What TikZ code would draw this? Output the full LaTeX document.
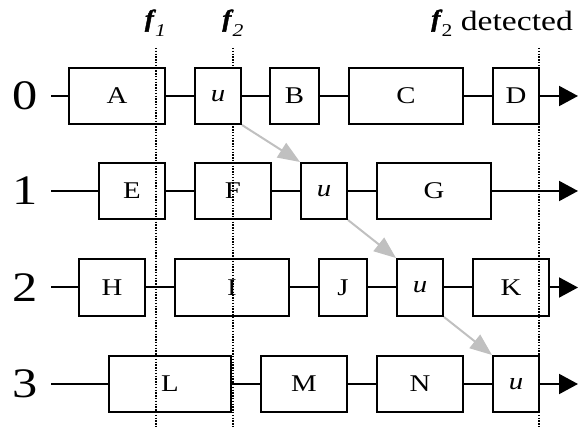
\documentclass[tikz,border=0pt]{standalone}
\usepackage{fontspec}
\setmainfont{Liberation Serif}[FakeStretch=1.2]
\newfontfamily\fvarfont{Liberation Serif Bold Italic}[FakeStretch=1.1, FakeBold=2]
\usetikzlibrary{arrows.meta}
\definecolor{pathgray}{RGB}{192,192,192}
\newcommand{\fsym}[1]{{\fontsize{24}{24}\fvarfont\raisebox{4.5pt}{f}}\kern1.5pt\raisebox{-6pt}{\fontsize{18}{18}\selectfont #1}}
\tikzset{
  blk/.style={draw, line width=2pt, minimum height=56pt, inner sep=0pt,
    font=\fontsize{24}{24}\selectfont},
  lane/.style={line width=2pt},
  outarrow/.style={lane, -{Triangle[length=19pt,width=20pt]}},
  hop/.style={draw=pathgray, line width=2pt, -{Triangle[length=22pt,width=17pt]}},
  rowlbl/.style={inner sep=0pt, font=\fontsize{42}{42}\selectfont},
  marker/.style={line width=1.5pt, dash pattern=on 1.4pt off 1.4pt},
  hdr/.style={anchor=base, inner sep=0pt, font=\fontsize{28}{28}\selectfont}
}
\begin{document}
\begin{tikzpicture}[x=1pt, y=-1pt]
\useasboundingbox (0,0) rectangle (581,427);

% headers
\node[hdr] (lf1) at (155.5,31) {\fsym{\itshape 1}};
\node[hdr] (lf2) at (233,31) {\fsym{\itshape 2}};
\node[hdr, anchor=base east] (ldet) at (573,31) {\fsym{2} detected};

% time markers
\coordinate (t1) at (156,48);  \coordinate (b1) at (156,427);
\coordinate (t2) at (233,48);  \coordinate (b2) at (233,427);
\coordinate (t3) at (539,48);  \coordinate (b3) at (539,427);
\draw[marker] (t1) -- (b1);
\draw[marker] (t2) -- (b2);
\draw[marker] (t3) -- (b3);

% row labels
\node[rowlbl] (r0) at (25,96) {0};
\node[rowlbl] (r1) at (25,191) {1};
\node[rowlbl] (r2) at (25,287.5) {2};
\node[rowlbl] (r3) at (25,384) {3};

% row 0
\coordinate (s0) at (51,96);
\coordinate (e0) at (578,96);
\node[blk, minimum width=96pt] (A) at (117,96) {A};
\node[blk, minimum width=46pt, fill=white] (u0) at (218,96) {\itshape u};
\node[blk, minimum width=49pt] (B) at (294.5,96) {B};
\node[blk, minimum width=114pt] (C) at (406,96) {C};
\node[blk, minimum width=46pt] (D) at (516,96) {D};
\draw[lane] (s0) -- (A);
\draw[lane] (A) -- (u0);
\draw[lane] (u0) -- (B);
\draw[lane] (B) -- (C);
\draw[lane] (C) -- (D);
\draw[outarrow] (D) -- (e0);

% row 1
\coordinate (s1) at (51,191);
\coordinate (e1) at (578,191);
\node[blk, minimum width=66pt] (E) at (132,191) {E};
\node[blk, minimum width=76pt] (F) at (233,191) {F};
\node[blk, minimum width=46pt] (u1) at (324,191) {\itshape u};
\node[blk, minimum width=114pt] (G) at (434,191) {G};
\draw[lane] (s1) -- (E);
\draw[lane] (E) -- (F);
\draw[lane] (F) -- (u1);
\draw[lane] (u1) -- (G);
\draw[outarrow] (G) -- (e1);

% row 2
\coordinate (s2) at (51,287.5);
\coordinate (e2) at (578,287.5);
\node[blk, minimum width=66pt, minimum height=57pt] (H) at (112,287.5) {H};
\node[blk, minimum width=114pt, minimum height=57pt] (I) at (232,287.5) {I};
\node[blk, minimum width=48pt, minimum height=57pt] (J) at (343,287.5) {J};
\node[blk, minimum width=46pt, minimum height=57pt] (u2) at (420,287.5) {\itshape u};
\node[blk, minimum width=76pt, minimum height=57pt] (K) at (511,287.5) {K};
\draw[lane] (s2) -- (H);
\draw[lane] (H) -- (I);
\draw[lane] (I) -- (J);
\draw[lane] (J) -- (u2);
\draw[lane] (u2) -- (K);
\draw[outarrow] (K) -- (e2);

% row 3
\coordinate (s3) at (51,384);
\coordinate (e3) at (578,384);
\node[blk, minimum width=122pt] (L) at (170,384) {L};
\node[blk, minimum width=86pt] (M) at (304,384) {M};
\node[blk, minimum width=86pt] (N) at (420,384) {N};
\node[blk, minimum width=46pt] (u3) at (516,384) {\itshape u};
\draw[lane] (s3) -- (L);
\draw[lane] (L) -- (M);
\draw[lane] (M) -- (N);
\draw[lane] (N) -- (u3);
\draw[outarrow] (u3) -- (e3);

% propagation of u between rows
\draw[hop] (u0.south east) -- (u1.north west);
\draw[hop] (u1.south east) -- (u2.north west);
\draw[hop] (u2.south east) -- (u3.north west);
\end{tikzpicture}
\end{document}
